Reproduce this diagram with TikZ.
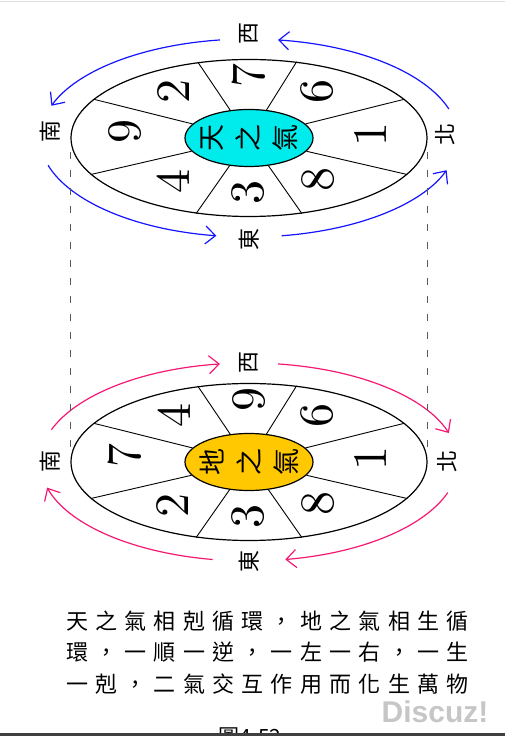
\documentclass[tikz,border=0pt]{standalone}
\usepackage{fontspec}
\newfontfamily\cjk{Noto Sans CJK TC}
\newfontfamily\cjkspaced{Noto Sans CJK TC}[LetterSpace=33]
\newfontfamily\markfont{Liberation Sans}
\newfontfamily\numfont{lmroman10-regular}[Extension=.otf]
\usetikzlibrary{arrows.meta,shapes.geometric,calc}
\definecolor{skycyan}{RGB}{0,235,235}
\definecolor{earthgold}{RGB}{255,200,0}
\definecolor{cycleblue}{RGB}{20,20,255}
\definecolor{cyclepink}{RGB}{245,25,115}

\tikzset{
  ring/.style={draw,ellipse,line width=1.2pt,inner sep=0pt,minimum width=356pt,minimum height=157pt},
  core/.style={draw,ellipse,line width=1.2pt,inner sep=0pt,minimum width=128pt,minimum height=57pt},
  spoke/.style={line width=0.9pt},
  num/.style={rotate=90,inner sep=0pt,font=\numfont\fontsize{48}{48}\selectfont},
  dirlabel/.style={rotate=90,inner sep=0pt,font=\cjk\fontsize{22}{22}\selectfont},
  corelabel/.style={rotate=90,inner sep=0pt,align=center,font=\cjk\fontsize{27}{37}\selectfont},
  flow/.style={line width=1.2pt,-{Straight Barb[length=10pt,width=18pt]}},
  guide/.style={dash pattern=on 7pt off 11pt,gray!70!black,line width=0.8pt},
  captionline/.style={anchor=base west,inner sep=0pt,font=\cjkspaced\fontsize{22}{22}\selectfont}
}

\begin{document}
\begin{tikzpicture}[x=1pt,y=1pt]
    \useasboundingbox (0,0) rectangle (505,736);
    \clip (0,0) rectangle (505,736);
    \draw[gray!25,line width=1pt] (0,734) -- (505,734);

    % Heaven ring
    \node[ring] (sky) at (249,598) {};
    \node[core,fill=skycyan] (skycore) at (249,598) {};
    \foreach \a in {14,58,124,166,193,235,305,347}
      \draw[spoke] (skycore.\a) -- (sky.\a);
    \node[corelabel] at (skycore) {天\\之\\氣};

    % Earth ring
    \node[ring] (earth) at (249,274) {};
    \node[core,fill=earthgold] (earthcore) at (249,274) {};
    \foreach \a in {14,58,124,166,193,235,305,347}
      \draw[spoke] (earthcore.\a) -- (earth.\a);
    \node[corelabel] at (earthcore) {地\\之\\氣};

    % Numbers in the sectors (heaven / earth)
    \foreach \dx/\dy/\up/\dn in {0/62/7/9, 68/46/6/6, 122/3/1/1, 69/-42/8/8,
        -1/-55/3/3, -76/-44/4/2, -124/6/9/7, -75/46/2/4} {
      \node[num] at ([shift={(\dx,\dy)}]sky.center) {\up};
      \node[num] at ([shift={(\dx,\dy)}]earth.center) {\dn};
    }

    % Directions
    \node[dirlabel] (skyW) at ([yshift=25pt]sky.north) {西};
    \node[dirlabel] (skyE) at ([yshift=-22pt]sky.south) {東};
    \node[dirlabel] (skyS) at ([xshift=-20pt,yshift=6pt]sky.west) {南};
    \node[dirlabel] (skyN) at ([xshift=18pt,yshift=3pt]sky.east) {北};
    \node[dirlabel] (earthW) at ([yshift=20pt]earth.north) {西};
    \node[dirlabel] (earthE) at ([yshift=-20pt]earth.south) {東};
    \node[dirlabel] (earthS) at ([xshift=-20pt]earth.west) {南};
    \node[dirlabel] (earthN) at ([xshift=20pt]earth.east) {北};

    % Cycles
    \foreach \s/\e in {17/82, 98/161, 196/261, 279/341}
      \draw[flow,cycleblue] ([shift={(\s:209pt and 99pt)}]sky.center)
        arc[start angle=\s,end angle=\e,x radius=209pt,y radius=99pt];
    \foreach \s/\e in {161/98, 82/17, 342/280, 260/195}
      \draw[flow,cyclepink] ([shift={(\s:209pt and 99pt)}]earth.center)
        arc[start angle=\s,end angle=\e,x radius=209pt,y radius=99pt];

    % Guides between the rings
    \draw[guide] ([yshift=-14pt]sky.west) -- ([yshift=14pt]earth.west);
    \draw[guide] ([yshift=-14pt]sky.east) -- ([yshift=14pt]earth.east);

    % Caption
    \node[captionline] (capA) at (66,106) {天之氣相剋循環，地之氣相生循};
    \node[captionline] (capB) at (66,75) {環，一順一逆，一左一右，一生};
    \node[captionline] (capC) at (66,43) {一剋，二氣交互作用而化生萬物};
    \node[anchor=north,inner sep=0pt,font=\cjk\fontsize{21}{21}\selectfont] (fignum) at (250,8) {圖4-52};
    \node[inner sep=0pt,text=gray!45,font=\markfont\bfseries\fontsize{30}{30}\selectfont] (mark) at (435,24.5) {Discuz!};
    \fill[black!75] (0,0) rectangle (505,3);
  \end{tikzpicture}
\end{document}
